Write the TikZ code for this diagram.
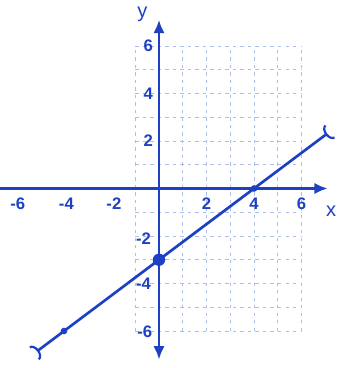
\documentclass[tikz,border=0pt]{standalone}
\usepackage{fontspec}
\setmainfont{Liberation Sans}
\usetikzlibrary{arrows.meta}
\definecolor{ink}{RGB}{30,65,195}
\definecolor{gridc}{RGB}{175,190,232}
\tikzset{
  axis/.style={draw=ink, line width=1.5pt, -{Latex[length=2.8mm,width=2.4mm]}},
  graphline/.style={draw=ink, line width=1.6pt, {Arc Barb[reversed,length=1.2mm,width=3.6mm,line width=1.3pt]}-{Arc Barb[reversed,length=1.2mm,width=3.6mm,line width=1.3pt]}},
  ticklab/.style={text=ink, font=\bfseries\normalsize, inner sep=0pt},
  faintgrid/.style={draw=gridc, line width=0.35pt, dash pattern=on 2pt off 2.5pt},
  bigdot/.style={circle, fill=ink, inner sep=0pt, minimum size=2.6mm},
  smalldot/.style={circle, fill=ink, inner sep=0pt, minimum size=1.4mm}
}
\begin{document}
\begin{tikzpicture}[x=0.5cm,y=0.5cm]
\useasboundingbox (-6.695,-7.558) rectangle (7.453,7.937);
% faint grid
\draw[faintgrid, step=0.5cm] (-1,-6) grid (6,6);
% axes
\coordinate (xl) at (-6.7,0);
\coordinate (xr) at (7.1,0);
\coordinate (yb) at (0,-7.2);
\coordinate (yt) at (0,7.1);
\coordinate (o) at (0,0);
\draw[axis] (xl) -- (xr);
\draw[axis] (o) -- (yt);
\draw[axis] (o) -- (yb);
\node[ticklab, font=\large] (xlab) at (7.25,-0.95) {x};
\node[ticklab, font=\large] (ylab) at (-0.7,7.35) {y};
% x tick labels
\node[ticklab] (xm6) at (-5.95,-0.65) {-6};
\node[ticklab] (xm4) at (-3.9,-0.65) {-4};
\node[ticklab] (xm2) at (-1.9,-0.65) {-2};
\node[ticklab] (xp2) at (2.0,-0.65) {2};
\node[ticklab] (xp4) at (4.0,-0.65) {4};
\node[ticklab] (xp6) at (6.0,-0.65) {6};
% y tick labels
\node[ticklab] (yp6) at (-0.45,6.0) {6};
\node[ticklab] (yp4) at (-0.45,4.0) {4};
\node[ticklab] (yp2) at (-0.45,2.0) {2};
\node[ticklab] (ym2) at (-0.65,-2.1) {-2};
\node[ticklab] (ym4) at (-0.65,-4.0) {-4};
\node[ticklab] (ym6) at (-0.6,-6.05) {-6};
% graph line
\coordinate (L) at (-5.25,-6.94);
\coordinate (R) at (7.2,2.4);
\draw[graphline] (L) -- (R);
\node[bigdot] (p1) at (0,-3) {};
\node[smalldot] (p2) at (4,0) {};
\node[smalldot] (p3) at (-4,-6) {};
\end{tikzpicture}
\end{document}
